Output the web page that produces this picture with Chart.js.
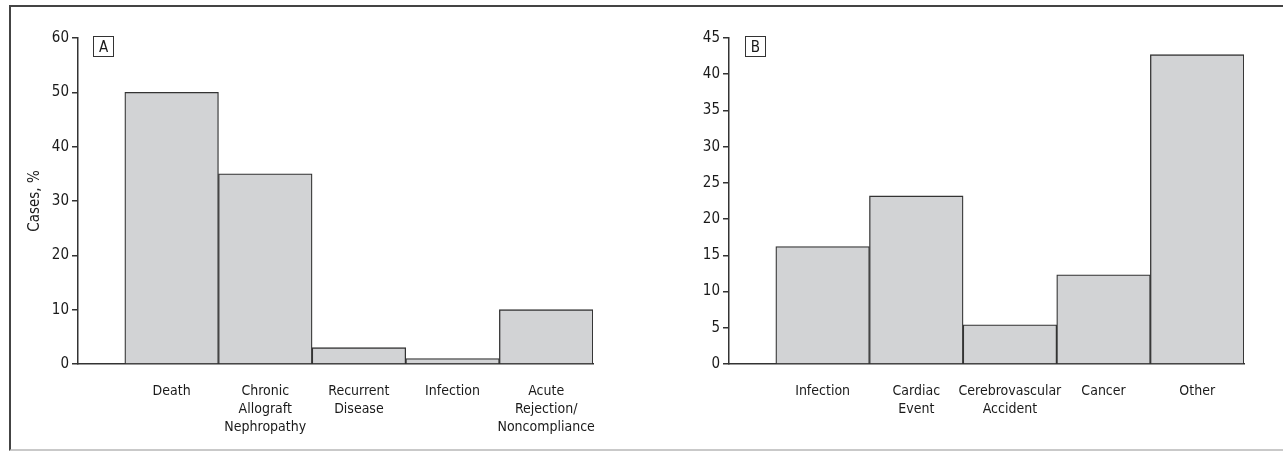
<!DOCTYPE html>
<html>
<head>
<meta charset="utf-8">
<script src="https://cdn.jsdelivr.net/npm/chart.js@4.4.1/dist/chart.umd.min.js"></script>
<style>
  body { margin: 0; background: #fff; width: 1283px; height: 451px; overflow: hidden; position: relative; }
  .frame { position: absolute; left: 9px; top: 5px; width: 1280px; height: 442px;
    border-top: 2px solid #444; border-left: 2px solid #444; border-bottom: 2px solid #c9c9c9; }
  canvas { position: absolute; top: 0; }
  .tag { position: absolute; top: 36px; width: 19px; height: 19px; border: 1px solid #333;
    font: 15px "Liberation Sans Narrow", "DejaVu Sans Condensed", sans-serif; color: #1a1a1a;
    text-align: center; line-height: 20px; }
</style>
</head>
<body>
<div class="frame"></div>
<canvas id="chartA" width="640" height="451" style="left:0"></canvas>
<canvas id="chartB" width="643" height="451" style="left:640px"></canvas>
<div class="tag" style="left:93px">A</div>
<div class="tag" style="left:745px">B</div>
<script>
const causesA = ['Death', ['Chronic', 'Allograft', 'Nephropathy'], ['Recurrent', 'Disease'], 'Infection', ['Acute', 'Rejection/', 'Noncompliance']];
const percentA = [50, 35, 3, 1, 10];
const causesB = ['Infection', ['Cardiac', 'Event'], ['Cerebrovascular', 'Accident'], 'Cancer', 'Other'];
const percentB = [16.2, 23.2, 5.4, 12.3, 42.7];

const fontFam = '"Liberation Sans Narrow", "DejaVu Sans Condensed", sans-serif';
const ink = '#333';
const textInk = '#1a1a1a';
const barFill = '#d2d3d5';

function makePanel(id, cats, vals, yMax, yStep, yWidth, padRight, yTitle) {
  const ctx = document.getElementById(id).getContext('2d');
  return new Chart(ctx, {
    type: 'bar',
    data: {
      datasets: [{
        data: vals.map((v, i) => ({ x: i, y: v })),
        backgroundColor: barFill,
        borderColor: ink,
        borderWidth: 1.3,
        barPercentage: 1,
        categoryPercentage: 1
      }]
    },
    options: {
      responsive: false,
      animation: false,
      layout: { padding: { top: 38, left: 0, right: padRight, bottom: 0 } },
      plugins: { legend: { display: false }, tooltip: { enabled: false } },
      scales: {
        x: {
          type: 'linear',
          offset: false,
          min: -1,
          max: cats.length - 0.5,
          afterBuildTicks: function(scale) {
            scale.ticks = cats.map((c, i) => ({ value: i }));
          },
          afterFit: function(scale) { scale.height = 87; },
          grid: { display: false, offset: false },
          border: { display: true, color: ink, width: 1.5 },
          ticks: {
            autoSkip: false,
            maxRotation: 0,
            padding: 10,
            color: textInk,
            font: { family: fontFam, size: 14, lineHeight: 1.3 },
            callback: function(value) { return cats[value]; }
          }
        },
        y: {
          min: 0,
          max: yMax,
          afterFit: function(scale) { scale.width = yWidth; },
          grid: { drawOnChartArea: false, drawTicks: true, tickLength: 6, color: ink, lineWidth: 1.5 },
          border: { display: true, color: ink, width: 1.5 },
          ticks: {
            stepSize: yStep,
            padding: 3,
            color: textInk,
            font: { family: fontFam, size: 15 }
          },
          title: {
            display: !!yTitle,
            text: yTitle || '',
            color: textInk,
            padding: { top: 26, bottom: 0 },
            font: { family: fontFam, size: 15 }
          }
        }
      }
    }
  });
}

makePanel('chartA', causesA, percentA, 60, 10, 78, 47, 'Cases, %');
makePanel('chartB', causesB, percentB, 45, 5, 89, 39, '');
</script>
</body>
</html>
